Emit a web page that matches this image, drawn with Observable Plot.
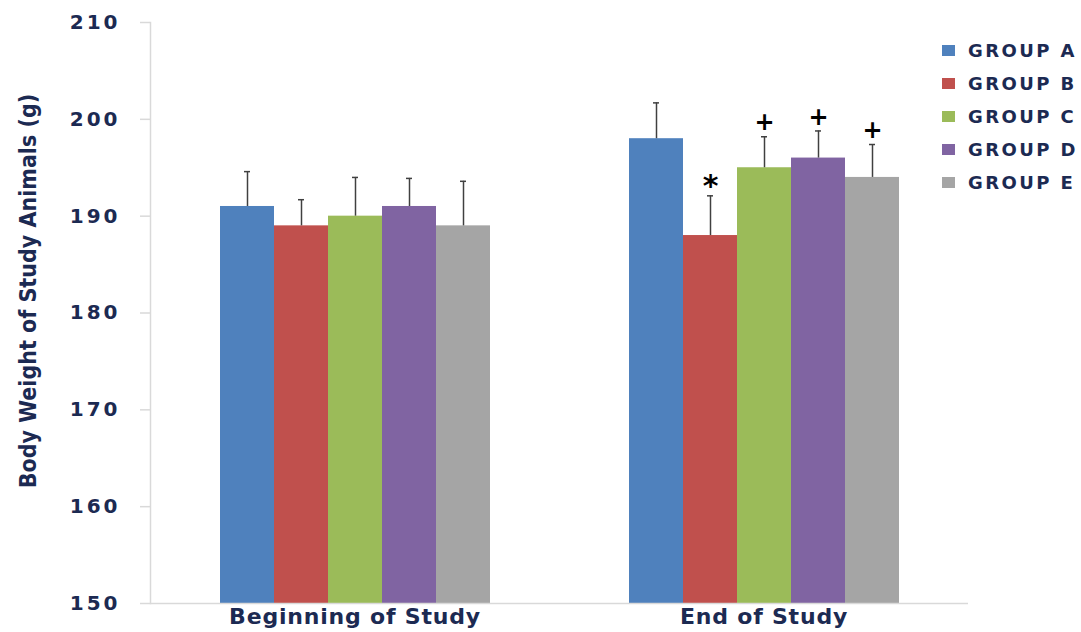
<!DOCTYPE html>
<html><head><meta charset="utf-8">
<script src="https://cdn.jsdelivr.net/npm/d3@7"></script>
<script src="https://cdn.jsdelivr.net/npm/@observablehq/plot@0.6"></script>
<style>
body{margin:0;background:#fff;}
#wrap{position:relative;width:1081px;height:632px;overflow:hidden}
#legend{position:absolute;left:942px;top:34px;font:bold 18px "DejaVu Sans";color:#1c2a52;letter-spacing:2.4px}
.item{display:flex;align-items:center;height:33px;white-space:nowrap}
.sw{width:13px;height:11px;margin-right:13px;flex:none}
svg g[aria-label="y-axis tick label"] text{letter-spacing:3px}
svg g[aria-label="fx-axis tick label"] text{letter-spacing:0.8px}
</style></head><body><div id="wrap"><div id="legend"></div></div>
<script>
const periods = ["Beginning of Study", "End of Study"];
const groups = ["GROUP A", "GROUP B", "GROUP C", "GROUP D", "GROUP E"];
const colors = ["#4f81bd", "#c0504d", "#9bbb59", "#8064a2", "#a5a5a5"];
const beginMeans = [191, 189, 190, 191, 189];
const beginErrors = [3.6, 2.7, 4.0, 2.9, 4.6];
const endMeans = [198, 188, 195, 196, 194];
const endErrors = [3.7, 4.1, 3.2, 2.8, 3.4];
const endMarks = ["", "*", "+", "+", "+"];
const beginMarks = ["", "", "", "", ""];
const yTicks = [150, 160, 170, 180, 190, 200, 210];
const yTitle = "Body Weight of Study Animals (g)";

const means = [beginMeans, endMeans];
const errors = [beginErrors, endErrors];
const sig = [beginMarks, endMarks];
const data = periods.flatMap((p, i) => groups.map((g, j) => ({
  period: p, group: g, mean: means[i][j], top: means[i][j] + errors[i][j], mark: sig[i][j]
})));
const yMin = yTicks[0];
const ink = "#1c2a52";

const chart = Plot.plot({
  width: 1081, height: 632,
  marginLeft: 150, marginRight: 113, marginTop: 22, marginBottom: 29,
  style: {fontFamily: "DejaVu Sans", color: ink, background: "white"},
  fx: {domain: periods, padding: 0, label: null},
  x: {domain: groups, paddingInner: 0, paddingOuter: 1.25, axis: null},
  y: {domain: [yMin, yTicks[yTicks.length - 1]], label: null, axis: null},
  color: {domain: groups, range: colors},
  marks: [
    Plot.barY(data, {fx: "period", x: "group", y1: yMin, y2: "mean", fill: "group"}),
    Plot.ruleX(data, {fx: "period", x: "group", y1: "mean", y2: "top", stroke: "#404040", strokeWidth: 1.5}),
    Plot.tickY(data, {fx: "period", x: "group", y: "top", stroke: "#404040", strokeWidth: 1.5, insetLeft: 24, insetRight: 24}),
    Plot.text(data.filter(d => d.mark === "+"), {fx: "period", x: "group", y: "top", text: "mark", dy: -14, fontSize: 24, fontWeight: "bold", fill: "#000"}),
    Plot.text(data.filter(d => d.mark === "*"), {fx: "period", x: "group", y: "top", text: "mark", dy: -9, fontSize: 30, fontWeight: "bold", fill: "#000"}),
    Plot.ruleY([yMin], {stroke: "#d9d9d9", strokeWidth: 1.5}),
    Plot.frame({anchor: "left", fx: [periods[0]], stroke: "#d9d9d9", strokeWidth: 1.5}),
    Plot.axisY({ticks: yTicks, tickSize: 10, tickPadding: 20, stroke: "#d9d9d9", strokeWidth: 1.5, fontSize: 20, fontWeight: "bold", fill: ink, label: null}),
    Plot.axisFx({anchor: "bottom", tickSize: 0, tickPadding: 5, fontSize: 22, fontWeight: "bold", fill: ink, label: null}),
    Plot.text([yTitle], {fx: [periods[0]], text: d => d, frameAnchor: "left", textAnchor: "middle", rotate: -90, dx: -122, dy: -22,
      fontFamily: "Liberation Sans Narrow, DejaVu Sans Condensed", fontSize: 23, fontWeight: "bold", fill: ink})
  ]
});
document.getElementById("wrap").prepend(chart);

const legend = document.getElementById("legend");
groups.forEach((g, i) => {
  const item = document.createElement("div");
  item.className = "item";
  const sw = document.createElement("span");
  sw.className = "sw";
  sw.style.background = colors[i];
  item.appendChild(sw);
  item.appendChild(document.createTextNode(g));
  legend.appendChild(item);
});
</script></body></html>
